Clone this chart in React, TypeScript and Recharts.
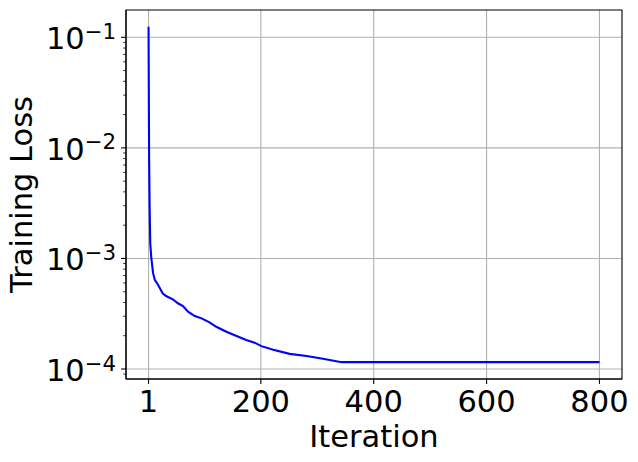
import React from 'react';
import { LineChart, Line, XAxis, YAxis, CartesianGrid, ReferenceArea } from 'recharts';

const iterations = [1, 2, 3, 4, 6, 9, 12, 18, 26, 32, 44, 53, 62, 71, 83, 95, 109, 121, 139, 157, 174, 189, 201, 222, 251, 281, 310, 343, 800];
const losses = [0.1245, 0.008, 0.0028, 0.00137, 0.001, 0.00074, 0.00064, 0.000575, 0.000484, 0.000457, 0.000427, 0.000393, 0.000371, 0.00033, 0.000301, 0.000287, 0.000264, 0.000241, 0.000217, 0.000199, 0.000183, 0.000173, 0.000161, 0.000149, 0.000137, 0.000131, 0.000124, 0.0001153, 0.0001153];

const xTicks = [1, 200, 400, 600, 800];
const xTickLabels = ['1', '200', '400', '600', '800'];
const yMajorTicks = [1e-4, 1e-3, 1e-2, 1e-1];
const yMajorExponents = ['\u22124', '\u22123', '\u22122', '\u22121'];
const yMinorTicks = [
  9e-5,
  2e-4, 3e-4, 4e-4, 5e-4, 6e-4, 7e-4, 8e-4, 9e-4,
  2e-3, 3e-3, 4e-3, 5e-3, 6e-3, 7e-3, 8e-3, 9e-3,
  2e-2, 3e-2, 4e-2, 5e-2, 6e-2, 7e-2, 8e-2, 9e-2,
];
const xDomain: [number, number] = [-38.95, 839.95];
const yDomain: [number, number] = [8.12e-5, 0.1766];

const data = iterations.map((it, i) => ({ iteration: it, loss: losses[i] }));

const FONT = 'DejaVu Sans';
const FS = 30.5;

const XTick = (props: any) => {
  const { x, y, payload } = props;
  const idx = xTicks.indexOf(payload.value);
  return (
    <g>
      <line x1={x} y1={y} x2={x} y2={y + 4.9} stroke="#000" strokeWidth={1.1} />
      <text x={x} y={y + 33} textAnchor="middle" fontFamily={FONT} fontSize={FS} fill="#000">
        {idx >= 0 ? xTickLabels[idx] : ''}
      </text>
    </g>
  );
};

const YTick = (props: any) => {
  const { x, y, payload } = props;
  const idx = yMajorTicks.findIndex((v) => Math.abs(v - payload.value) / v < 1e-6);
  if (idx < 0) {
    return <line x1={x - 2.8} y1={y} x2={x} y2={y} stroke="#000" strokeWidth={0.8} />;
  }
  return (
    <g>
      <line x1={x - 4.9} y1={y} x2={x} y2={y} stroke="#000" strokeWidth={1.1} />
      <text x={x - 9.8} y={y + 12} textAnchor="end" fontFamily={FONT} fontSize={FS} fill="#000">
        <tspan>10</tspan>
        <tspan dy={-10.5} fontSize={FS * 0.7}>{yMajorExponents[idx]}</tspan>
      </text>
    </g>
  );
};

const XLabel = (props: any) => {
  const vb = props.viewBox || { x: 126, y: 379, width: 496, height: 83 };
  return (
    <text x={vb.x + vb.width / 2} y={vb.y + 68} textAnchor="middle" fontFamily={FONT} fontSize={FS} fill="#000">
      Iteration
    </text>
  );
};

const YLabel = (props: any) => {
  const vb = props.viewBox || { x: 0, y: 10, width: 126, height: 369 };
  const cx = vb.x + 32;
  const cy = vb.y + vb.height / 2;
  return (
    <text x={cx} y={cy} transform={`rotate(-90, ${cx}, ${cy})`} textAnchor="middle" fontFamily={FONT} fontSize={FS} fill="#000">
      Training Loss
    </text>
  );
};

export default function App() {
  return (
    <div style={{ position: 'absolute', left: 0, top: 0, width: 638, height: 462, background: '#fff' }}>
      <LineChart width={638} height={462} data={data} margin={{ top: 10, right: 16, bottom: 0, left: 0 }}>
        <CartesianGrid stroke="#b0b0b0" strokeWidth={1.1} horizontalValues={yMajorTicks} verticalValues={xTicks} />
        <XAxis
          dataKey="iteration"
          type="number"
          domain={xDomain}
          allowDataOverflow
          ticks={xTicks}
          interval={0}
          tickLine={false}
          tickSize={0}
          tickMargin={0}
          tick={<XTick />}
          axisLine={{ stroke: '#000', strokeWidth: 1.1 }}
          height={83}
          label={(p: any) => <XLabel {...p} />}
        />
        <YAxis
          dataKey="loss"
          type="number"
          scale="log"
          domain={yDomain}
          allowDataOverflow
          ticks={[...yMinorTicks, ...yMajorTicks].sort((a, b) => a - b)}
          interval={0}
          tickLine={false}
          tickSize={0}
          tickMargin={0}
          tick={<YTick />}
          axisLine={{ stroke: '#000', strokeWidth: 1.1 }}
          width={126}
          label={(p: any) => <YLabel {...p} />}
        />
        <ReferenceArea
          x1={xDomain[0]}
          x2={xDomain[1]}
          y1={yDomain[0]}
          y2={yDomain[1]}
          fill="none"
          fillOpacity={0}
          stroke="#000"
          strokeWidth={1.1}
          ifOverflow="visible"
        />
        <Line type="linear" dataKey="loss" stroke="#0000ff" strokeWidth={2.1} dot={false} isAnimationActive={false} />
      </LineChart>
    </div>
  );
}
